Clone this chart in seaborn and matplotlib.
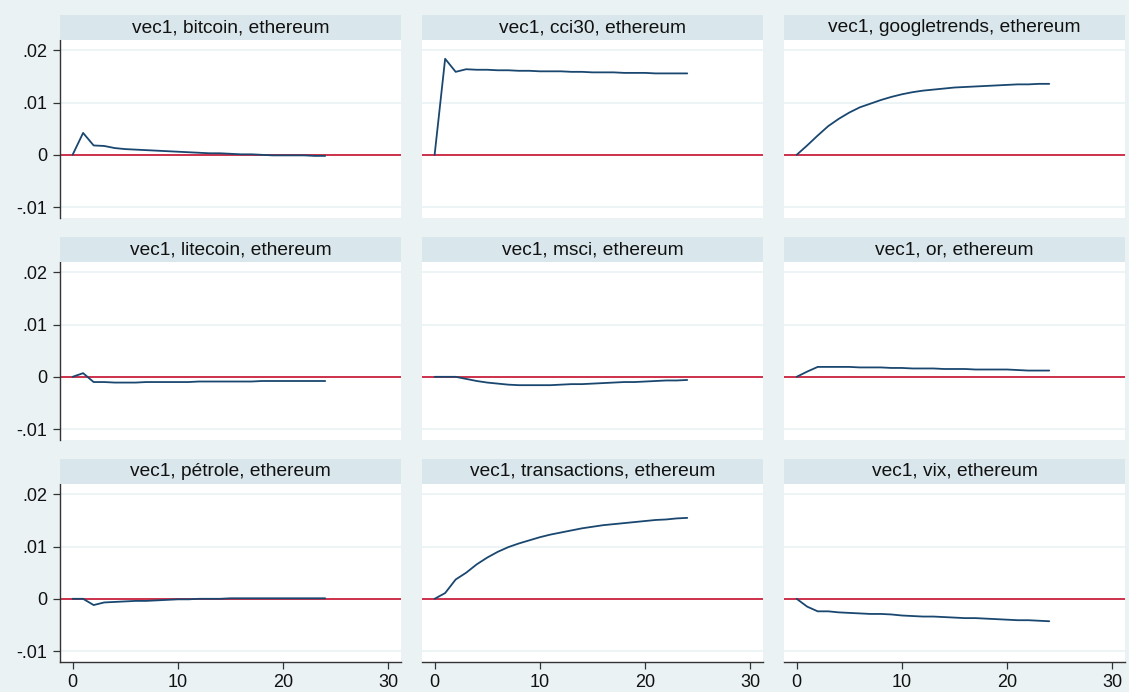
import numpy as np
import pandas as pd
import seaborn as sns
import matplotlib.pyplot as plt
from matplotlib.patches import Rectangle
from matplotlib.ticker import FuncFormatter

# impulse response step (0..24)
steps = list(range(25))

panel_names = [
    "vec1, bitcoin, ethereum",
    "vec1, cci30, ethereum",
    "vec1, googletrends, ethereum",
    "vec1, litecoin, ethereum",
    "vec1, msci, ethereum",
    "vec1, or, ethereum",
    "vec1, pétrole, ethereum",
    "vec1, transactions, ethereum",
    "vec1, vix, ethereum",
]

bitcoin = [0, 0.0042, 0.0018, 0.0017, 0.0013, 0.0011, 0.0010, 0.0009, 0.0008, 0.0007,
           0.0006, 0.0005, 0.0004, 0.0003, 0.0003, 0.0002, 0.0001, 0.0001, 0.0000, -0.0001,
           -0.0001, -0.0001, -0.0001, -0.0002, -0.0002]
cci30 = [0, 0.0184, 0.0159, 0.0164, 0.0163, 0.0163, 0.0162, 0.0162, 0.0161, 0.0161,
         0.0160, 0.0160, 0.0160, 0.0159, 0.0159, 0.0158, 0.0158, 0.0158, 0.0157, 0.0157,
         0.0157, 0.0156, 0.0156, 0.0156, 0.0156]
googletrends = [0, 0.0018, 0.0037, 0.0055, 0.0069, 0.0081, 0.0091, 0.0098, 0.0105, 0.0111,
                0.0116, 0.0120, 0.0123, 0.0125, 0.0127, 0.0129, 0.0130, 0.0131, 0.0132, 0.0133,
                0.0134, 0.0135, 0.0135, 0.0136, 0.0136]
litecoin = [0, 0.0007, -0.0010, -0.0010, -0.0011, -0.0011, -0.0011, -0.0010, -0.0010, -0.0010,
            -0.0010, -0.0010, -0.0009, -0.0009, -0.0009, -0.0009, -0.0009, -0.0009, -0.0008, -0.0008,
            -0.0008, -0.0008, -0.0008, -0.0008, -0.0008]
msci = [0, 0.0000, 0.0000, -0.0004, -0.0008, -0.0011, -0.0013, -0.0015, -0.0016, -0.0016,
        -0.0016, -0.0016, -0.0015, -0.0014, -0.0014, -0.0013, -0.0012, -0.0011, -0.0010, -0.0010,
        -0.0009, -0.0008, -0.0007, -0.0007, -0.0006]
gold = [0, 0.0010, 0.0019, 0.0019, 0.0019, 0.0019, 0.0018, 0.0018, 0.0018, 0.0017,
        0.0017, 0.0016, 0.0016, 0.0016, 0.0015, 0.0015, 0.0015, 0.0014, 0.0014, 0.0014,
        0.0014, 0.0013, 0.0012, 0.0012, 0.0012]
petrole = [0, 0.0000, -0.0012, -0.0007, -0.0006, -0.0005, -0.0004, -0.0004, -0.0003, -0.0002,
           -0.0001, -0.0001, 0.0000, 0.0000, 0.0000, 0.0001, 0.0001, 0.0001, 0.0001, 0.0001,
           0.0001, 0.0001, 0.0001, 0.0001, 0.0001]
transactions = [0, 0.0011, 0.0037, 0.0050, 0.0066, 0.0079, 0.0090, 0.0099, 0.0106, 0.0112,
                0.0118, 0.0123, 0.0127, 0.0131, 0.0135, 0.0138, 0.0141, 0.0143, 0.0145, 0.0147,
                0.0149, 0.0151, 0.0152, 0.0154, 0.0155]
vix = [0, -0.0015, -0.0024, -0.0024, -0.0026, -0.0027, -0.0028, -0.0029, -0.0029, -0.0030,
       -0.0032, -0.0033, -0.0034, -0.0034, -0.0035, -0.0036, -0.0037, -0.0037, -0.0038, -0.0039,
       -0.0040, -0.0041, -0.0041, -0.0042, -0.0043]

series = [bitcoin, cci30, googletrends, litecoin, msci, gold, petrole, transactions, vix]

y_ticks = [-0.01, 0, 0.01, 0.02]
y_labels = ["-.01", "0", ".01", ".02"]
x_ticks = [0, 10, 20, 30]

BG = "#EAF2F3"
STRIP = "#D9E6EB"
LINE = "#1A476F"
RED = "#C8102E"


def fmt_y(v, pos):
    for t, lab in zip(y_ticks, y_labels):
        if abs(v - t) < 1e-9:
            return lab
    return ""


def main():
    frames = []
    for name, vals in zip(panel_names, series):
        frames.append(pd.DataFrame({"step": steps, "irf": vals, "panel": name}))
    df = pd.concat(frames, ignore_index=True)

    sns.set_style("white")
    plt.rcParams["font.family"] = ["Liberation Sans", "DejaVu Sans"]

    g = sns.FacetGrid(df, col="panel", col_wrap=3, col_order=panel_names,
                      sharex=True, sharey=True, height=2, aspect=1.9)
    g.map_dataframe(sns.lineplot, x="step", y="irf", color=LINE, linewidth=1.3)

    fig = g.figure
    fig.set_size_inches(11.29, 6.92)
    fig.set_dpi(100)
    fig.patch.set_facecolor(BG)
    fig.subplots_adjust(left=0.0531, right=0.9965, top=0.9422, bottom=0.0434,
                        wspace=0.0616, hspace=0.247)

    for i, ax in enumerate(g.axes.flat):
        ax.set_facecolor("white")
        ax.set_xlim(-1.2, 31.2)
        ax.set_ylim(-0.0121, 0.022)
        for yt in y_ticks:
            ax.axhline(yt, color=BG, linewidth=1.2, zorder=0)
        ax.axhline(0, color=RED, linewidth=1.2, zorder=1)
        ax.set_title("")
        ax.set_xlabel("")
        ax.set_ylabel("")
        ax.set_yticks(y_ticks)
        ax.set_xticks(x_ticks)
        ax.yaxis.set_major_formatter(FuncFormatter(fmt_y))
        for s in ax.spines.values():
            s.set_visible(False)
        col = i % 3
        row = i // 3
        ax.tick_params(axis="both", labelsize=13, length=5, width=0.9,
                       color="#333333", labelcolor="#111111", pad=4)
        if col == 0:
            ax.spines["left"].set_visible(True)
            ax.spines["left"].set_color("#333333")
            ax.spines["left"].set_linewidth(1.0)
            ax.tick_params(axis="y", left=True, labelleft=True)
        else:
            ax.tick_params(axis="y", left=False, labelleft=False)
        if row == 2:
            ax.spines["bottom"].set_visible(True)
            ax.spines["bottom"].set_color("#333333")
            ax.spines["bottom"].set_linewidth(1.0)
            ax.tick_params(axis="x", bottom=True, labelbottom=True)
        else:
            ax.tick_params(axis="x", bottom=False, labelbottom=False)

        # strip header above each panel
        strip = Rectangle((0, 1.0), 1, 0.14, transform=ax.transAxes,
                          facecolor=STRIP, edgecolor="none", clip_on=False, zorder=3)
        ax.add_patch(strip)
        ax.text(0.5, 1.07, panel_names[i], transform=ax.transAxes, ha="center",
                va="center", fontsize=13.8, color="#111111", zorder=4)

    fig.savefig("out.png", dpi=100, facecolor=BG)


if __name__ == "__main__":
    main()
